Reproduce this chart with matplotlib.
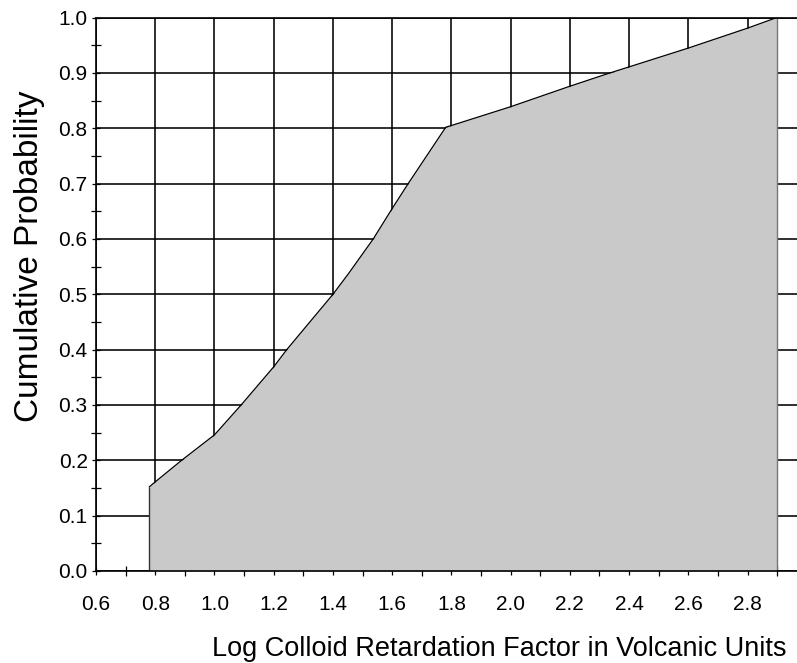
import numpy as np
import matplotlib.pyplot as plt
from matplotlib.ticker import MultipleLocator, FormatStrFormatter

plt.rcParams['font.family'] = ['Liberation Sans', 'DejaVu Sans']

# cumulative distribution of the colloid retardation factor (log10)
log_rf = [0.78, 0.793, 0.889, 1.00, 1.09, 1.20, 1.244, 1.40, 1.452, 1.536,
          1.60, 1.654, 1.781, 1.80, 2.00, 2.20, 2.335, 2.40, 2.60, 2.80, 2.898]
cum_prob = [0.152, 0.158, 0.200, 0.246, 0.300, 0.369, 0.400, 0.500, 0.537, 0.600,
            0.655, 0.700, 0.802, 0.805, 0.839, 0.876, 0.900, 0.911, 0.945, 0.981, 1.000]

x_ticks = np.arange(0.6, 2.81, 0.2)
y_ticks = np.arange(0.0, 1.01, 0.1)

fig = plt.figure(figsize=(7.97, 6.63), dpi=100)
ax = fig.add_axes([0.1205, 0.1388, 0.8795, 0.8346])

ax.fill_between(log_rf, cum_prob, 0, color='#c9c9c9', lw=0, zorder=1)
ax.plot(log_rf, cum_prob, color='black', lw=0.9, zorder=2)
ax.vlines(log_rf[0], 0, cum_prob[0], color='#333333', lw=1.0, zorder=2)
ax.vlines(log_rf[-1], 0, cum_prob[-1], color='#777777', lw=1.0, zorder=2)

ax.set_xlim(0.6, 2.967)
ax.set_ylim(0, 1.0)
ax.set_xticks(x_ticks)
ax.set_yticks(y_ticks)
ax.xaxis.set_minor_locator(MultipleLocator(0.1))
ax.yaxis.set_minor_locator(MultipleLocator(0.05))
ax.xaxis.set_major_formatter(FormatStrFormatter('%.1f'))
ax.yaxis.set_major_formatter(FormatStrFormatter('%.1f'))

ax.set_axisbelow(True)
ax.grid(which='major', color='black', lw=1.15)

ax.spines['right'].set_visible(False)
for side in ['left', 'bottom', 'top']:
    ax.spines[side].set_linewidth(1.2)

ax.tick_params(which='major', direction='inout', length=6, width=0.9,
               labelsize=15)
ax.tick_params(which='minor', direction='inout', length=7, width=0.9)
ax.tick_params(axis='x', which='major', pad=14)
ax.tick_params(axis='y', which='major', pad=3)
ax.tick_params(top=False, right=False, which='both')

fig.text(0.627, 0.011, 'Log Colloid Retardation Factor in Volcanic Units',
         ha='center', va='baseline', fontsize=19.5)
fig.text(0.037, 0.613, 'Cumulative Probability', rotation=90,
         ha='center', va='center', fontsize=24)

fig.savefig('out.png', dpi=100)
